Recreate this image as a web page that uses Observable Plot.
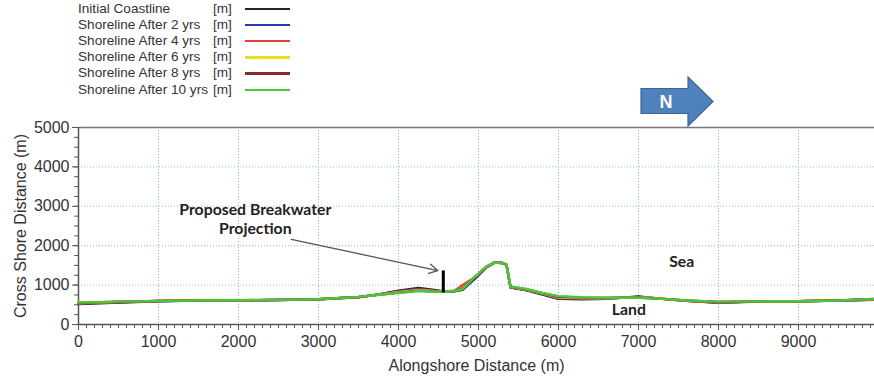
<!DOCTYPE html>
<html><head><meta charset="utf-8">
<script src="https://cdn.jsdelivr.net/npm/d3@7"></script>
<script src="https://cdn.jsdelivr.net/npm/@observablehq/plot@0.6"></script>
<style>
body{margin:0;background:#fff;}
#wrap{position:relative;width:874px;height:378px;overflow:hidden;font-family:"Liberation Sans",Arial,sans-serif;}
#legend{position:absolute;left:78px;top:0;}
.lg{position:absolute;white-space:nowrap;font-size:13.6px;color:#333;line-height:15px;}
.lu{position:absolute;font-size:13.6px;color:#333;line-height:15px;}
.ll{position:absolute;height:2.5px;width:45px;}
#north{position:absolute;left:0;top:0;}
</style></head>
<body><div id="wrap"></div>
<script>
// ---- data ----
const alongshore = [0,500,1000,1500,2000,2500,3000,3500,3800,4000,4250,4450,4560,4700,4800,4950,5100,5200,5300,5350,5400,5600,5800,6000,6300,6600,7000,7300,7600,8000,8300,8600,9000,9500,9950];
const initialCoastline = [520,560,590,610,610,620,640,690,780,860,930,880,840,845,880,1150,1450,1570,1560,1520,940,870,760,650,640,650,710,650,600,550,570,590,590,610,630];
const after2yrs  = [530,565,595,610,612,622,642,695,775,845,905,865,835,850,900,1170,1460,1570,1560,1515,945,875,770,660,650,660,700,650,600,560,575,590,590,610,635];
const after4yrs  = [540,570,598,612,615,625,642,698,770,830,885,855,833,860,1000,1190,1465,1570,1560,1510,950,882,780,675,662,668,695,652,603,565,577,590,590,612,640];
const after6yrs  = [545,573,600,612,616,626,642,700,767,820,870,845,831,855,930,1195,1468,1570,1560,1505,955,888,788,690,672,673,690,652,606,570,578,590,590,612,643];
const after8yrs  = [550,576,600,611,616,626,641,700,764,810,860,838,830,852,915,1198,1469,1570,1560,1502,958,893,795,705,682,677,685,651,608,575,579,590,590,611,646];
const after10yrs = [560,580,600,610,615,625,640,700,760,800,850,830,830,850,900,1200,1470,1570,1560,1500,960,900,800,720,690,680,680,650,610,580,580,590,590,610,650];
const seriesNames = ["Initial Coastline","Shoreline After 2 yrs","Shoreline After 4 yrs","Shoreline After 6 yrs","Shoreline After 8 yrs","Shoreline After 10 yrs"];
const seriesColors = ["#222222","#2b36b0","#ee3b3b","#e8e020","#8a2a2a","#48c83e"];
const seriesValues = [initialCoastline, after2yrs, after4yrs, after6yrs, after8yrs, after10yrs];
const xTicks = [0,1000,2000,3000,4000,5000,6000,7000,8000,9000];
const yTicks = [0,1000,2000,3000,4000,5000];
const breakwaterX = 4560, breakwaterBase = 800, breakwaterTip = 1360;

// ---- build table ----
const rows = [];
seriesNames.forEach((name, i) => alongshore.forEach((x, j) => rows.push({series: name, x, y: seriesValues[i][j]})));

const labels = [
  {x: 2210, y: 2900, text: "Proposed Breakwater"},
  {x: 2210, y: 2420, text: "Projection"},
  {x: 7540, y: 1600, text: "Sea"},
  {x: 6880, y: 380, text: "Land"}
];

const gridStyle = {stroke: "#8fbde8", strokeOpacity: 1, strokeDasharray: "1,2", strokeWidth: 1};
const fmt = d3.format("d");

const chart = Plot.plot({
  width: 874, height: 378,
  marginTop: 127, marginLeft: 78, marginRight: 0, marginBottom: 54,
  style: {fontFamily: "'Liberation Sans', Arial, sans-serif", fontSize: "16px", color: "#333", background: "transparent"},
  x: {domain: [0, 9950]},
  y: {domain: [0, 5000]},
  marks: [
    Plot.gridX(xTicks.filter(d => d > 0), gridStyle),
    Plot.gridY(yTicks.filter(d => d > 0 && d < 5000), gridStyle),
    Plot.axisX(d3.range(0, 9951, 100), {tickSize: 4, tickFormat: () => "", label: null, stroke: "#555"}),
    Plot.axisY(d3.range(0, 5001, 250), {tickSize: 4, tickFormat: () => "", label: null, stroke: "#555"}),
    Plot.axisX(xTicks, {tickSize: 6, tickPadding: 5, tickFormat: fmt, stroke: "#555", fill: "#333", label: "Alongshore Distance (m)", labelAnchor: "center", labelArrow: "none", labelOffset: 46, fontSize: 16}),
    Plot.axisY(yTicks, {tickSize: 6, tickPadding: 3, tickFormat: fmt, stroke: "#555", fill: "#333", label: "Cross Shore Distance (m)", labelAnchor: "center", labelArrow: "none", labelOffset: 64, fontSize: 16}),
    Plot.ruleY([0], {stroke: "#555", strokeWidth: 1.5}),
    Plot.ruleY([5000], {stroke: "#777", strokeWidth: 1.5}),
    Plot.ruleX([0], {stroke: "#555", strokeWidth: 1.5}),
    Plot.line(rows, {x: "x", y: "y", z: "series", stroke: "series", strokeWidth: 2.4}),
    Plot.ruleX([breakwaterX], {y1: breakwaterBase, y2: breakwaterTip, stroke: "#000", strokeWidth: 3}),
    Plot.arrow([{x1: 2660, y1: 2160, x2: 4490, y2: 1370}], {x1: "x1", y1: "y1", x2: "x2", y2: "y2", stroke: "#555", strokeWidth: 1.3, headLength: 11}),
    Plot.text(labels, {x: "x", y: "y", text: "text", fontFamily: "Lato, 'Open Sans', sans-serif", fontWeight: "bold", fontSize: 15.8, fill: "#222"})
  ],
  color: {domain: seriesNames, range: seriesColors}
});

const wrap = document.getElementById("wrap");
wrap.appendChild(chart);

// legend
const legend = document.createElement("div");
legend.id = "legend";
seriesNames.forEach((name, i) => {
  const top = 0.5 + i * 16.2;
  const t = document.createElement("div"); t.className = "lg"; t.style.top = top + "px"; t.style.left = "0px"; t.textContent = name; legend.appendChild(t);
  const u = document.createElement("div"); u.className = "lu"; u.style.top = top + "px"; u.style.left = "135px"; u.textContent = "[m]"; legend.appendChild(u);
  const l = document.createElement("div"); l.className = "ll"; l.style.top = (top + 7) + "px"; l.style.left = "167px"; l.style.background = seriesColors[i]; legend.appendChild(l);
});
wrap.appendChild(legend);

// north arrow
const ns = "http://www.w3.org/2000/svg";
const nsvg = document.createElementNS(ns, "svg");
nsvg.setAttribute("id", "north"); nsvg.setAttribute("width", 874); nsvg.setAttribute("height", 140);
nsvg.innerHTML = '<path d="M641,88.5 L688,88.5 L688,77 L713,101.5 L688,126 L688,113.5 L641,113.5 Z" fill="#4f81bd" stroke="#3b6597" stroke-width="1.2"/>' +
  '<text x="666" y="108" text-anchor="middle" fill="#fff" font-family="Liberation Sans, Arial, sans-serif" font-weight="bold" font-size="18">N</text>';
wrap.appendChild(nsvg);
</script></body></html>
